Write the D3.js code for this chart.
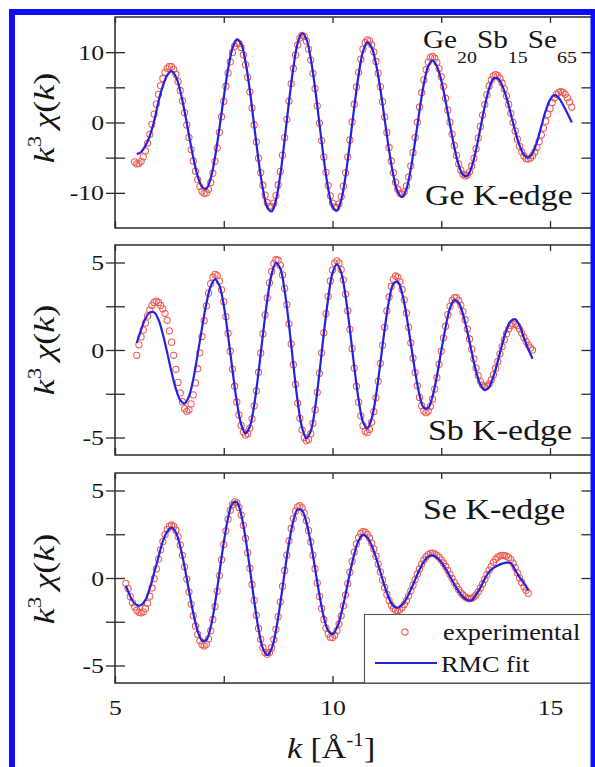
<!DOCTYPE html>
<html><head><meta charset="utf-8">
<script src="https://cdn.jsdelivr.net/npm/d3@7"></script>
<style>
body{margin:0;background:#fff}
svg{display:block}
</style>
</head><body>
<svg id="c" width="595" height="767"></svg>
<script>
// ---------------- data ----------------
const xDomain = [5, 16];
const xTicks = [5, 7.5, 10, 12.5, 15];
const xLabelTicks = [5, 10, 15];
const xLabels = ["5", "10", "15"];

const geYDomain = [-15, 15];
const geYTicks = [-10, -5, 0, 5, 10];
const geYLabels = ["-10", "", "0", "", "10"];
const sbYDomain = [-6, 6];
const sbYTicks = [-5, -2.5, 0, 2.5, 5];
const sbYLabels = ["-5", "", "0", "", "5"];
const seYDomain = [-6, 6];
const seYTicks = [-5, -2.5, 0, 2.5, 5];
const seYLabels = ["-5", "", "0", "", "5"];

const edgeNames = ["Ge K-edge", "Sb K-edge", "Se K-edge"];
const legendLabels = ["experimental", "RMC fit"];

// k grid of the experimental points (Å^-1)
const kExp = [
5.25,5.3,5.35,5.4,5.45,5.5,5.55,5.6,5.65,5.7,5.75,5.8,5.85,5.9,5.95,
6,6.05,6.1,6.15,6.2,6.25,6.3,6.35,6.4,6.45,6.5,6.55,6.6,6.65,6.7,6.75,6.8,6.85,6.9,6.95,
7,7.05,7.1,7.15,7.2,7.25,7.3,7.35,7.4,7.45,7.5,7.55,7.6,7.65,7.7,7.75,7.8,7.85,7.9,7.95,
8,8.05,8.1,8.15,8.2,8.25,8.3,8.35,8.4,8.45,8.5,8.55,8.6,8.65,8.7,8.75,8.8,8.85,8.9,8.95,
9,9.05,9.1,9.15,9.2,9.25,9.3,9.35,9.4,9.45,9.5,9.55,9.6,9.65,9.7,9.75,9.8,9.85,9.9,9.95,
10,10.05,10.1,10.15,10.2,10.25,10.3,10.35,10.4,10.45,10.5,10.55,10.6,10.65,10.7,10.75,10.8,10.85,10.9,10.95,
11,11.05,11.1,11.15,11.2,11.25,11.3,11.35,11.4,11.45,11.5,11.55,11.6,11.65,11.7,11.75,11.8,11.85,11.9,11.95,
12,12.05,12.1,12.15,12.2,12.25,12.3,12.35,12.4,12.45,12.5,12.55,12.6,12.65,12.7,12.75,12.8,12.85,12.9,12.95,
13,13.05,13.1,13.15,13.2,13.25,13.3,13.35,13.4,13.45,13.5,13.55,13.6,13.65,13.7,13.75,13.8,13.85,13.9,13.95,
14,14.05,14.1,14.15,14.2,14.25,14.3,14.35,14.4,14.45,14.5,14.55,14.6,14.65,14.7,14.75,14.8,14.85,14.9,14.95,
15,15.05,15.1,15.15,15.2,15.25,15.3,15.35,15.4,15.45,15.5];

const geExp = [
null,null,null,null,-5.6,-5.87,-5.84,-5.51,-4.88,-4.02,-2.92,-1.68,-0.25,1.2,2.62,
4.01,5.24,6.26,7.14,7.71,7.97,7.94,7.56,6.84,5.83,4.55,3.06,1.41,-0.34,-2.12,-3.85,-5.47,-6.92,-8.13,-9.11,
-9.76,-10.07,-10.01,-9.5,-8.53,-7.2,-5.51,-3.61,-1.4,0.82,3.02,5.16,7.05,8.63,9.97,10.85,11.26,11.21,10.67,9.63,
8.22,6.42,4.37,2.05,-0.35,-2.75,-5.07,-7.12,-8.92,-10.33,-11.37,-11.92,-11.95,-11.45,-10.39,-8.88,-6.95,-4.64,-2.15,0.46,
3.04,5.54,7.68,9.59,11.05,12.0,12.39,12.24,11.58,10.45,8.88,7.0,4.82,2.37,-0.08,-2.57,-4.92,-7.08,-8.96,-10.43,
-11.45,-12.01,-12.05,-11.56,-10.53,-9.05,-7.16,-4.91,-2.48,0.08,2.6,5.05,7.14,9.01,10.43,11.36,11.74,11.61,11.04,10.05,
8.68,7.02,5.1,2.96,0.78,-1.41,-3.55,-5.47,-7.13,-8.5,-9.49,-10.06,-10.19,-9.85,-9.02,-7.76,-6.16,-4.25,-2.14,0.04,
2.21,4.26,6.05,7.53,8.61,9.24,9.39,9.15,8.56,7.67,6.5,5.12,3.45,1.75,0.05,-1.65,-3.27,-4.68,-5.87,-6.76,
-7.35,-7.59,-7.48,-7.01,-6.18,-5.09,-3.72,-2.19,-0.56,1.06,2.58,3.96,5.19,6.07,6.62,6.8,6.66,6.27,5.62,4.78,
3.78,2.57,1.31,0.03,-1.2,-2.37,-3.36,-4.17,-4.76,-5.12,-5.2,-5.05,-4.71,-4.19,-3.53,-2.7,-1.77,-0.79,0.19,1.16,
2.0,2.85,3.5,4.0,4.3,4.4,4.3,4.0,3.5,2.9,2.2];

const sbExp = [
null,null,null,null,null,-0.3,0.3,0.75,1.15,1.55,1.95,2.3,2.55,2.72,2.8,
2.72,2.55,2.35,2.1,1.7,1.1,0.45,-0.3,-1.1,-1.85,-2.45,-2.95,-3.35,-3.5,-3.41,-3.08,-2.56,-1.88,-1.07,-0.16,
0.77,1.68,2.52,3.25,3.79,4.16,4.32,4.25,3.95,3.44,2.77,1.91,0.96,-0.07,-1.09,-2.07,-2.97,-3.71,-4.31,-4.69,
-4.86,-4.78,-4.46,-3.93,-3.19,-2.33,-1.27,-0.17,0.93,2.01,2.98,3.84,4.49,4.94,5.16,5.13,4.84,4.29,3.52,2.59,
1.5,0.35,-0.84,-1.96,-3.03,-3.9,-4.56,-5.01,-5.19,-5.11,-4.78,-4.19,-3.41,-2.42,-1.33,-0.16,0.98,2.08,3.07,3.95,
4.57,4.97,5.1,4.97,4.6,4.01,3.2,2.25,1.18,0.09,-1.03,-2.07,-2.98,-3.76,-4.32,-4.64,-4.72,-4.54,-4.13,-3.52,
-2.73,-1.79,-0.76,0.27,1.3,2.24,3.03,3.64,4.05,4.23,4.16,3.91,3.46,2.87,2.12,1.3,0.41,-0.47,-1.29,-2.04,
-2.71,-3.18,-3.48,-3.58,-3.49,-3.22,-2.8,-2.23,-1.58,-0.82,-0.06,0.7,1.36,2.02,2.5,2.84,2.99,2.99,2.84,2.57,
2.2,1.73,1.2,0.63,0.05,-0.5,-1.03,-1.46,-1.79,-2.0,-2.1,-2.07,-1.94,-1.71,-1.41,-1.04,-0.65,-0.22,0.2,0.59,
0.93,1.2,1.39,1.48,1.47,1.38,1.2,0.97,0.72,0.48,0.28,0.12,0.0,null,null,null,null,null,null,null,
null,null,null,null,null,null,null,null,null,null,null];

const seExp = [
-0.3,-0.6,-1.05,-1.4,-1.65,-1.84,-1.96,-1.99,-1.93,-1.74,-1.44,-1.04,-0.57,-0.04,0.52,
1.08,1.61,2.08,2.48,2.78,2.97,3.03,2.95,2.73,2.37,1.89,1.3,0.64,-0.06,-0.79,-1.49,-2.15,-2.74,-3.22,-3.58,
-3.8,-3.88,-3.78,-3.48,-3.02,-2.37,-1.63,-0.75,0.14,1.05,1.92,2.7,3.36,3.87,4.2,4.35,4.29,4.03,3.6,3.01,
2.27,1.45,0.56,-0.37,-1.28,-2.13,-2.88,-3.5,-3.97,-4.25,-4.35,-4.25,-3.98,-3.51,-2.93,-2.21,-1.36,-0.47,0.43,1.31,
2.13,2.83,3.4,3.82,4.07,4.13,4.01,3.72,3.29,2.72,2.06,1.31,0.53,-0.28,-1.05,-1.74,-2.37,-2.86,-3.19,-3.38,
-3.4,-3.27,-3.01,-2.63,-2.16,-1.58,-0.96,-0.32,0.33,0.95,1.48,1.95,2.31,2.55,2.65,2.62,2.5,2.29,2.0,1.66,
1.25,0.8,0.35,-0.11,-0.54,-0.94,-1.28,-1.55,-1.74,-1.84,-1.86,-1.8,-1.68,-1.51,-1.29,-1.03,-0.73,-0.41,-0.09,0.23,
0.52,0.8,1.03,1.21,1.34,1.41,1.42,1.38,1.3,1.19,1.04,0.86,0.66,0.44,0.21,-0.02,-0.25,-0.46,-0.66,-0.83,
-0.97,-1.08,-1.15,-1.18,-1.16,-1.09,-0.96,-0.79,-0.57,-0.34,-0.08,0.19,0.45,0.67,0.9,1.07,1.2,1.27,1.29,1.28,
1.25,1.18,1.05,0.85,0.6,0.3,0.0,-0.25,-0.5,-0.7,-0.87,null,null,null,null,null,null,null,null,null,
null,null,null,null,null,null,null,null,null,null,null];

// k grid of the RMC fit curves
const kFit = [
5.25,5.3,5.4,5.5,5.6,5.7,5.8,5.9,
6,6.1,6.2,6.3,6.4,6.5,6.6,6.7,6.8,6.9,
7,7.1,7.2,7.3,7.4,7.5,7.6,7.7,7.8,7.9,
8,8.1,8.2,8.3,8.4,8.5,8.6,8.7,8.8,8.9,
9,9.1,9.2,9.3,9.4,9.5,9.6,9.7,9.8,9.9,
10,10.1,10.2,10.3,10.4,10.5,10.6,10.7,10.8,10.9,
11,11.1,11.2,11.3,11.4,11.5,11.6,11.7,11.8,11.9,
12,12.1,12.2,12.3,12.4,12.5,12.6,12.7,12.8,12.9,
13,13.1,13.2,13.3,13.4,13.5,13.6,13.7,13.8,13.9,
14,14.1,14.2,14.3,14.4,14.5,14.6,14.7,14.8,14.9,
15,15.1,15.2,15.3,15.4,15.5];

const geFit = [
null,null,null,-4.5,-4.2,-3.3,-1.9,0.2,
3.0,5.2,6.7,7.3,6.49,4.49,1.57,-1.79,-5.01,-7.63,
-9.16,-9.41,-7.93,-4.92,-0.82,3.59,7.61,10.53,11.81,11.19,
8.61,4.55,-0.43,-5.4,-9.46,-12.04,-12.65,-11.02,-7.44,-2.45,
2.96,7.79,11.29,12.69,11.85,9.07,4.87,-0.19,-5.19,-9.36,
-11.93,-12.55,-11.02,-7.63,-2.92,2.2,6.76,10.07,11.39,10.69,
8.32,4.73,0.4,-3.93,-7.52,-9.89,-10.59,-9.44,-6.6,-2.63,
1.68,5.48,8.01,8.79,7.98,5.99,3.03,-0.28,-3.49,-6.02,
-7.45,-7.58,-6.31,-3.9,-0.81,2.27,4.82,6.22,6.27,5.28,
3.53,1.18,-1.2,-3.26,-4.58,-5.0,-4.33,-2.75,-0.55,1.64,
3.22,3.9,3.5,2.5,1.3,0.0];

const sbFit = [
null,null,null,0.4,1.15,1.8,2.15,2.15,
1.73,0.9,-0.15,-1.26,-2.22,-2.86,-3.05,-2.65,-1.67,-0.26,
1.26,2.64,3.64,4.04,3.68,2.56,0.81,-1.14,-2.95,-4.24,
-4.76,-4.37,-3.14,-1.27,0.87,2.85,4.32,4.97,4.66,3.39,
1.44,-0.83,-2.95,-4.43,-5.04,-4.64,-3.32,-1.31,0.93,2.93,
4.39,4.9,4.42,3.08,1.16,-0.96,-2.83,-4.1,-4.48,-3.92,
-2.61,-0.75,1.2,2.83,3.79,3.9,3.24,1.98,0.37,-1.24,
-2.57,-3.3,-3.3,-2.65,-1.49,-0.05,1.3,2.38,2.85,2.69,
2.04,1.04,-0.12,-1.21,-1.97,-2.29,-2.11,-1.51,-0.65,0.31,
1.14,1.66,1.76,1.4,0.7,0.05,-0.5,null,null,null,
null,null,null,null,null,null];

const seFit = [
-0.45,-0.75,-1.3,-1.55,-1.55,-1.25,-0.6,0.3,
1.2,2.1,2.65,2.88,2.6,1.8,0.63,-0.72,-2.01,-3.02,
-3.57,-3.54,-2.8,-1.45,0.29,2.02,3.43,4.25,4.33,3.63,
2.29,0.55,-1.3,-2.93,-4.02,-4.41,-4.04,-3.0,-1.45,0.32,
2.0,3.26,3.92,3.86,3.18,2.01,0.54,-0.97,-2.23,-3.01,
-3.21,-2.85,-2.04,-0.93,0.28,1.36,2.14,2.46,2.32,1.86,
1.17,0.34,-0.48,-1.17,-1.59,-1.7,-1.54,-1.18,-0.67,-0.09,
0.47,0.93,1.22,1.29,1.17,0.91,0.53,0.09,-0.36,-0.77,
-1.08,-1.26,-1.27,-0.95,-0.55,-0.05,0.35,0.58,0.72,0.82,
0.88,0.85,0.45,0.05,-0.3,-0.7,null,null,null,null,
null,null,null,null,null,null];

// ---------------- drawing ----------------
const SERIF = "'Liberation Serif','Times New Roman',Times,serif";
const SX = 1.17;               // horizontal stretch of the original figure
const FRAME = "#2a2a2a";
const RED = "#ee5b52";
const BLUE = "#2222e4";
const BORDER = "#0d0dfa";
const L = 115, R = 593.5;

const svg = d3.select("#c").style("font-family", SERIF);
const x = d3.scaleLinear().domain(xDomain).range([L, R]);

const panels = [
  {exp: geExp, fit: geFit, dom: geYDomain, ticks: geYTicks, labels: geYLabels, top: 17, bottom: 228, titleY: 118, name: edgeNames[0], nameX: 425, nameY: 205},
  {exp: sbExp, fit: sbFit, dom: sbYDomain, ticks: sbYTicks, labels: sbYLabels, top: 245, bottom: 455, titleY: 350, name: edgeNames[1], nameX: 428, nameY: 440},
  {exp: seExp, fit: seFit, dom: seYDomain, ticks: seYTicks, labels: seYLabels, top: 473, bottom: 683, titleY: 579, name: edgeNames[2], nameX: 423, nameY: 519}
];

function stretchText(sel) {
  sel.each(function () {
    const t = d3.select(this);
    const xx = +t.attr("x") || 0;
    t.attr("x", 0).attr("transform", `translate(${xx},0) scale(${SX},1)`);
  });
}
function styleAxis(g) {
  g.select(".domain").remove();
  g.selectAll("line").attr("stroke", FRAME).attr("stroke-width", 1.3);
  g.attr("font-family", null).attr("font-size", 22);
  g.selectAll("text").attr("fill", "#151515").style("font-family", SERIF);
}

panels.forEach((p, i) => {
  const y = d3.scaleLinear().domain(p.dom).range([p.bottom, p.top]);
  const g = svg.append("g");

  // axes: crossing ticks on the left, inward ticks elsewhere
  const lo = g.append("g").attr("transform", `translate(${L},0)`)
    .call(d3.axisLeft(y).tickValues(p.ticks).tickSize(9).tickPadding(2).tickFormat((d, j) => p.labels[j]));
  styleAxis(lo); stretchText(lo.selectAll("text"));
  const li = g.append("g").attr("transform", `translate(${L},0)`)
    .call(d3.axisLeft(y).tickValues(p.ticks).tickSize(-10).tickFormat(""));
  styleAxis(li);
  const ri = g.append("g").attr("transform", `translate(${R},0)`)
    .call(d3.axisRight(y).tickValues(p.ticks).tickSize(-12).tickFormat(""));
  styleAxis(ri);
  const ti = g.append("g").attr("transform", `translate(0,${p.top})`)
    .call(d3.axisTop(x).tickValues(xTicks).tickSize(-6).tickFormat(""));
  styleAxis(ti);
  const bi = g.append("g").attr("transform", `translate(0,${p.bottom})`)
    .call(d3.axisBottom(x).tickValues(xTicks).tickSize(-7).tickFormat(""));
  styleAxis(bi);
  if (i === panels.length - 1) {
    const bl = g.append("g").attr("transform", `translate(0,${p.bottom})`)
      .call(d3.axisBottom(x).tickValues(xLabelTicks).tickSize(0).tickPadding(0).tickFormat((d, j) => xLabels[j]));
    styleAxis(bl);
    bl.selectAll("text").attr("y", 32).attr("dy", "0");
    stretchText(bl.selectAll("text"));
  }

  g.append("rect").attr("x", L).attr("y", p.top).attr("width", R - L).attr("height", p.bottom - p.top)
    .attr("fill", "none").attr("stroke", FRAME).attr("stroke-width", 1.5);

  // experimental points
  const pts = kExp.map((k, j) => [k, p.exp[j]]).filter(d => d[1] != null);
  g.append("g").selectAll("circle").data(pts).join("circle")
    .attr("cx", d => x(d[0])).attr("cy", d => y(d[1])).attr("r", 3.1)
    .attr("fill", "none").attr("stroke", RED).attr("stroke-width", 1.05);

  // RMC fit
  const fitPts = kFit.map((k, j) => [k, p.fit[j]]);
  const line = d3.line().defined(d => d[1] != null).x(d => x(d[0])).y(d => y(d[1]))
    .curve(d3.curveCatmullRom.alpha(0.5));
  g.append("path").datum(fitPts).attr("d", line).attr("fill", "none")
    .attr("stroke", BLUE).attr("stroke-width", 2.2);

  // edge label
  g.append("g").attr("transform", `translate(${p.nameX},${p.nameY}) scale(${SX},1)`)
    .append("text").attr("font-size", 29).attr("fill", "#151515")
    .text(p.name);

  // y axis title k^3 chi(k)
  const yt = g.append("g").attr("transform", `translate(54,${p.titleY}) scale(0.84,1) rotate(-90)`)
    .append("text").attr("font-size", 36).attr("fill", "#151515")
    .attr("text-anchor", "middle");
  yt.append("tspan").attr("font-style", "italic").text("k");
  yt.append("tspan").attr("font-size", 23).attr("dy", -15).text("3");
  yt.append("tspan").attr("font-style", "italic").attr("dy", 15).text("\u2009\u03C7");
  yt.append("tspan").text("(");
  yt.append("tspan").attr("font-style", "italic").text("k");
  yt.append("tspan").text(")");
});

// composition label
const comp = svg.append("g").attr("transform", `translate(423,48) scale(${SX},1)`)
  .append("text").attr("font-size", 25).attr("fill", "#151515");
[["Ge", 0], ["20", 1], ["Sb", 0], ["15", 1], ["Se", 0], ["65", 1]].forEach((s, j) => {
  const t = comp.append("tspan").text(s[0]);
  if (s[1]) t.attr("font-size", 17).attr("dy", 15);
  else if (j > 0) t.attr("dy", -15);
});

// x axis title
const xt = svg.append("g").attr("transform", `translate(287,758) scale(${SX},1)`)
  .append("text").attr("font-size", 29).attr("fill", "#151515");
xt.append("tspan").attr("font-style", "italic").text("k");
xt.append("tspan").text(" [\u00C5");
xt.append("tspan").attr("font-size", 18).attr("dy", -12).text("-1");
xt.append("tspan").attr("dy", 12).text("]");

// legend (inside bottom panel)
const lg = svg.append("g");
lg.append("rect").attr("x", 364.5).attr("y", 614.5).attr("width", R - 364.5).attr("height", 683 - 614.5)
  .attr("fill", "#fff").attr("stroke", "#555").attr("stroke-width", 1.1);
lg.append("circle").attr("cx", 405).attr("cy", 632).attr("r", 3.1).attr("fill", "none")
  .attr("stroke", RED).attr("stroke-width", 1.05);
lg.append("line").attr("x1", 375).attr("x2", 437).attr("y1", 663).attr("y2", 663)
  .attr("stroke", BLUE).attr("stroke-width", 2.2);
[[443, 640], [441, 672]].forEach((pos, j) => {
  lg.append("g").attr("transform", `translate(${pos[0]},${pos[1]}) scale(${SX},1)`)
    .append("text").attr("font-size", 22.5).attr("fill", "#151515")
    .text(legendLabels[j]);
});

// blue frame
svg.append("rect").attr("x", 9).attr("y", 9).attr("width", 586).attr("height", 6).attr("fill", BORDER);
svg.append("rect").attr("x", 9).attr("y", 9).attr("width", 6).attr("height", 758).attr("fill", BORDER);
svg.append("rect").attr("x", 590.5).attr("y", 9).attr("width", 4.5).attr("height", 758).attr("fill", BORDER);
</script>
</body></html>
